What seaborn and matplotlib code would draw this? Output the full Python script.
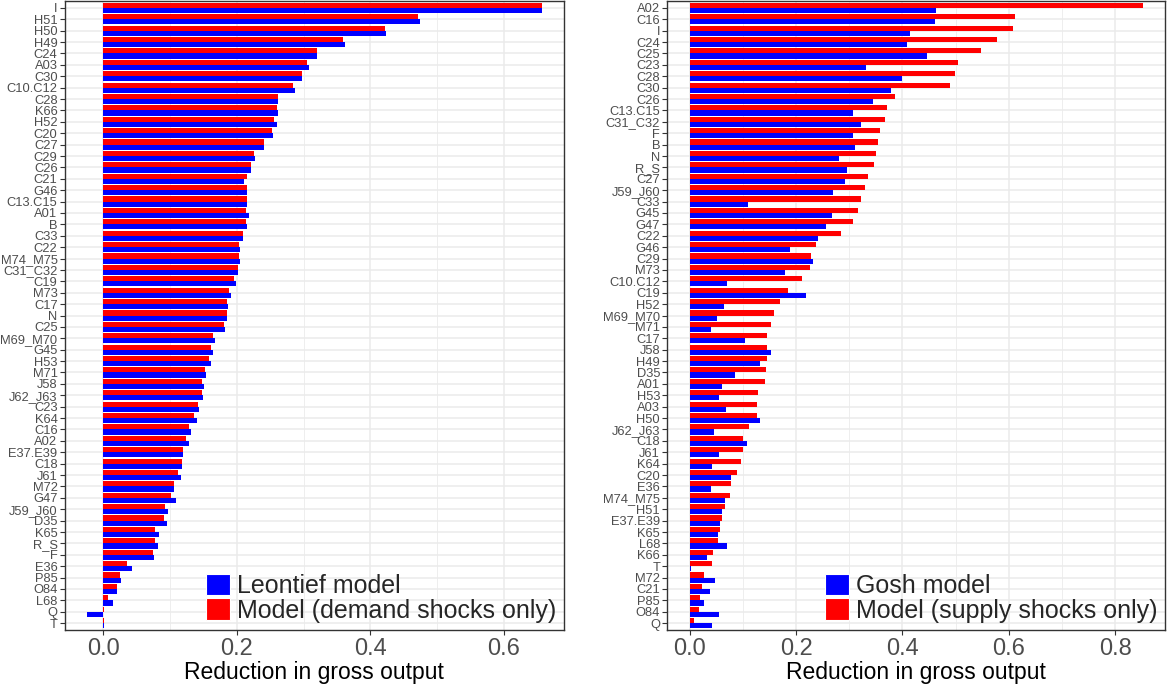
import pandas as pd
from matplotlib import pyplot as plt
from matplotlib.patches import Patch
from matplotlib.ticker import MultipleLocator
import seaborn as sns

# left panel: demand side
left_sectors = ["I", "H51", "H50", "H49", "C24", "A03", "C30", "C10.C12", "C28", "K66",
                "H52", "C20", "C27", "C29", "C26", "C21", "G46", "C13.C15", "A01", "B",
                "C33", "C22", "M74_M75", "C31_C32", "C19", "M73", "C17", "N", "C25",
                "M69_M70", "G45", "H53", "M71", "J58", "J62_J63", "C23", "K64", "C16",
                "A02", "E37.E39", "C18", "J61", "M72", "G47", "J59_J60", "D35", "K65",
                "R_S", "F", "E36", "P85", "O84", "L68", "Q", "T"]
leontief = [0.6575, 0.474, 0.4236, 0.362, 0.3195, 0.308, 0.2975, 0.287, 0.2614, 0.2614,
            0.2597, 0.2537, 0.241, 0.2274, 0.2219, 0.211, 0.2159, 0.2159, 0.2175, 0.2159,
            0.2099, 0.2055, 0.2055, 0.2011, 0.1995, 0.1918, 0.1874, 0.1858, 0.183,
            0.1666, 0.165, 0.1616, 0.1545, 0.1512, 0.1496, 0.1436, 0.1408, 0.1315,
            0.1288, 0.1195, 0.1184, 0.1167, 0.1063, 0.109, 0.097, 0.0953, 0.0833,
            0.0822, 0.0762, 0.0427, 0.0263, 0.0203, 0.0142, -0.024, 0.001]
demand_model = [0.6575, 0.472, 0.4225, 0.3595, 0.3195, 0.305, 0.2975, 0.2838, 0.2614, 0.2597,
                0.2564, 0.252, 0.241, 0.2263, 0.2219, 0.2159, 0.2148, 0.2148, 0.2132, 0.2132,
                0.2088, 0.2038, 0.2038, 0.2011, 0.1951, 0.189, 0.1858, 0.1847, 0.1814,
                0.165, 0.1616, 0.1589, 0.1529, 0.1485, 0.1485, 0.1425, 0.1364, 0.1288,
                0.1244, 0.1195, 0.1184, 0.1123, 0.1063, 0.1014, 0.0926, 0.091, 0.0773,
                0.0773, 0.0745, 0.035, 0.0247, 0.0203, 0.0066, 0.0005, 0.0005]

# right panel: supply side
right_sectors = ["A02", "C16", "I", "C24", "C25", "C23", "C28", "C30", "C26", "C13.C15",
                 "C31_C32", "F", "B", "N", "R_S", "C27", "J59_J60", "C33", "G45", "G47",
                 "C22", "G46", "C29", "M73", "C10.C12", "C19", "H52", "M69_M70", "M71",
                 "C17", "J58", "H49", "D35", "A01", "H53", "A03", "H50", "J62_J63", "C18",
                 "J61", "K64", "C20", "E36", "M74_M75", "H51", "E37.E39", "K65", "L68",
                 "K66", "T", "M72", "C21", "P85", "O84", "Q"]
gosh = [0.4635, 0.4614, 0.4147, 0.409, 0.446, 0.3316, 0.3993, 0.3784, 0.3449, 0.3072,
        0.3218, 0.3072, 0.3106, 0.2806, 0.296, 0.2918, 0.2695, 0.1089, 0.2674, 0.2562,
        0.2408, 0.1885, 0.2318, 0.1787, 0.0698, 0.2185, 0.0642, 0.051, 0.0398,
        0.1033, 0.1522, 0.1319, 0.0845, 0.06, 0.0545, 0.0677, 0.1319, 0.0454, 0.1075,
        0.0545, 0.0412, 0.0775, 0.0398, 0.0656, 0.06, 0.0565, 0.0524, 0.0698,
        0.0321, 0.002, 0.0468, 0.0377, 0.0265, 0.0545, 0.0412]
supply_model = [0.8517, 0.6122, 0.6087, 0.578, 0.548, 0.5047, 0.4991, 0.49, 0.386, 0.3714,
                0.3672, 0.3581, 0.3539, 0.3504, 0.3462, 0.3351, 0.3295, 0.3218, 0.3162, 0.3072,
                0.2841, 0.2373, 0.2276, 0.2262, 0.2108, 0.1843, 0.1696, 0.1585, 0.1522,
                0.1452, 0.1452, 0.1452, 0.1431, 0.141, 0.1277, 0.1264, 0.1264, 0.111, 0.0998,
                0.0998, 0.0963, 0.0887, 0.0775, 0.0754, 0.0656, 0.06, 0.0565, 0.0524,
                0.0433, 0.0412, 0.0279, 0.0223, 0.0188, 0.0168, 0.0077]

BLUE = "#0000FF"
RED = "#FF0000"

sns.set_theme(style="white")
plt.rcParams["font.family"] = ["Liberation Sans", "DejaVu Sans"]

fig = plt.figure(figsize=(11.71, 6.93), dpi=100)
ax_l = fig.add_axes([0.0551, 0.0909, 0.4266, 0.9076])
ax_r = fig.add_axes([0.5696, 0.0909, 0.4253, 0.9076])

panels = [
    (ax_l, left_sectors, leontief, demand_model,
     "Leontief model", "Model (demand shocks only)", (-0.058, 0.69), [0, 0.2, 0.4, 0.6]),
    (ax_r, right_sectors, gosh, supply_model,
     "Gosh model", "Model (supply shocks only)", (-0.0426, 0.894), [0, 0.2, 0.4, 0.6, 0.8]),
]

for ax, sectors, base, model, base_lab, model_lab, xlim, xticks in panels:
    df = pd.DataFrame({"sector": sectors, base_lab: base, model_lab: model})
    df = df.melt(id_vars="sector", var_name="kind", value_name="value")

    sns.barplot(
        data=df, x="value", y="sector", hue="kind",
        order=sectors, hue_order=[model_lab, base_lab],
        palette={base_lab: BLUE, model_lab: RED},
        width=0.9, gap=0, saturation=1, errorbar=None,
        legend=False, ax=ax, zorder=3, linewidth=0,
    )

    ax.set_xlim(*xlim)
    ax.set_ylim(len(sectors) - 0.4, -0.6)
    ax.set_xticks(xticks)
    ax.xaxis.set_minor_locator(MultipleLocator(0.1))
    ax.set_axisbelow(True)
    ax.grid(True, which="major", axis="both", color="#EBEBEB", linewidth=1.1, zorder=0)
    ax.grid(True, which="minor", axis="x", color="#EBEBEB", linewidth=0.6, zorder=0)
    ax.tick_params(axis="y", which="major", labelsize=9.3, labelcolor="#4D4D4D",
                   length=3.5, width=0.8, color="#333333", left=True, pad=1.5)
    ax.tick_params(axis="x", which="major", labelsize=17, labelcolor="#4D4D4D",
                   length=3.5, width=0.8, color="#333333", bottom=True, pad=2)
    ax.tick_params(axis="x", which="minor", length=0)
    ax.set_xlabel("Reduction in gross output", fontsize=16.5, color="black", labelpad=1)
    ax.set_ylabel("")
    for s in ax.spines.values():
        s.set_color("#333333")
        s.set_linewidth(1.0)

    handles = [Patch(facecolor=BLUE, edgecolor="white", linewidth=0.8, label=base_lab),
               Patch(facecolor=RED, edgecolor="white", linewidth=0.8, label=model_lab)]
    ax.legend(handles=handles, loc="lower right", frameon=False, fontsize=18,
              handlelength=0.95, handleheight=0.95, handletextpad=0.3,
              labelspacing=0.0, borderaxespad=0.2, borderpad=0.1)

plt.savefig("out.png", dpi=100)
